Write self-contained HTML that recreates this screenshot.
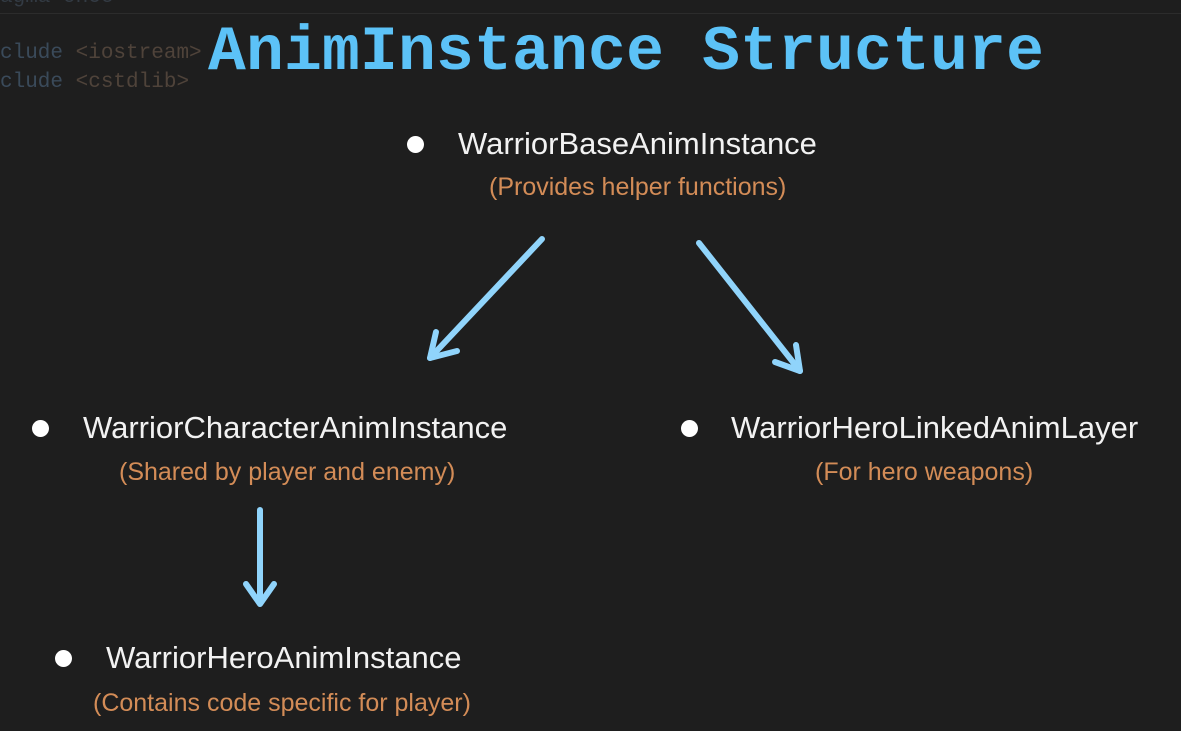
<!DOCTYPE html>
<html><head><style>
body{margin:0;width:1181px;height:731px;background:#1e1e1e;overflow:hidden;position:relative;font-family:"Liberation Sans",sans-serif}
.a{position:absolute;white-space:nowrap}
.code{font-family:"Liberation Mono",monospace;font-size:21px;color:#3a4a5a}
.t{font-family:"Liberation Mono",monospace;font-weight:bold;font-size:63px;color:#5cc2f7;left:208px;top:17px;letter-spacing:0.2px}
.n{font-size:31px;color:#f2f2f2}
.s{font-size:25px;color:#d38c57}
.d{position:absolute;width:17px;height:17px;border-radius:50%;background:#fff}
</style></head><body>
<div class="a" style="left:0;top:13px;width:1181px;height:1px;background:#2c2c2c"></div>
<div class="a code" style="left:0;top:-14px;color:#333b44">agma once</div>
<div class="a code" style="left:0;top:42px"><span>clude</span> <span style="color:#4f433a">&lt;iostream&gt;</span></div>
<div class="a code" style="left:0;top:71px"><span>clude</span> <span style="color:#4f433a">&lt;cstdlib&gt;</span></div>
<div class="a t">AnimInstance Structure</div>

<div class="d" style="left:407px;top:136px"></div>
<div class="a n" style="left:458px;top:126px">WarriorBaseAnimInstance</div>
<div class="a s" style="left:489px;top:173px">(Provides helper functions)</div>

<div class="d" style="left:32px;top:420px"></div>
<div class="a n" style="left:83px;top:410px">WarriorCharacterAnimInstance</div>
<div class="a s" style="left:119px;top:458px">(Shared by player and enemy)</div>

<div class="d" style="left:681px;top:420px"></div>
<div class="a n" style="left:731px;top:410px">WarriorHeroLinkedAnimLayer</div>
<div class="a s" style="left:815px;top:458px">(For hero weapons)</div>

<div class="d" style="left:55px;top:650px"></div>
<div class="a n" style="left:106px;top:640px">WarriorHeroAnimInstance</div>
<div class="a s" style="left:93px;top:689px">(Contains code specific for player)</div>

<svg class="a" style="left:0;top:0" width="1181" height="731">
<g stroke="#90d4fb" stroke-width="6" fill="none" stroke-linecap="round" stroke-linejoin="round">
<path d="M542 239 L430 358"/><path d="M436 332 L430 358 L457 351"/>
<path d="M699 243 L800 371"/><path d="M796 345 L800 371 L775 362"/>
<path d="M260 510 L260 603"/><path d="M246 584 L260 604 L274 584"/>
</g></svg>
</body></html>
